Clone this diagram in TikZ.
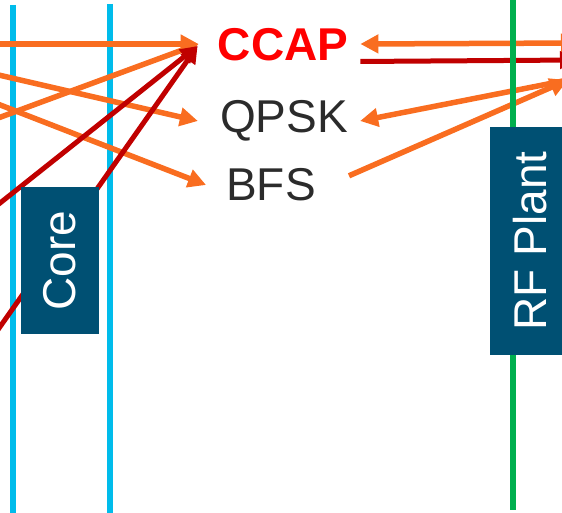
\documentclass[tikz,border=0pt]{standalone}
\usepackage{fontspec}
\setmainfont{Liberation Sans}
\usepackage{tikz}
\usetikzlibrary{arrows.meta}
\definecolor{cableblue}{HTML}{00BCEB}
\definecolor{plantgreen}{HTML}{00AF4E}
\definecolor{boxteal}{HTML}{005073}
\definecolor{sigorange}{HTML}{F96D20}
\definecolor{sigred}{HTML}{C00000}
\definecolor{labelgray}{HTML}{2B2B2B}
\tikzset{
  lbl/.style={inner xsep=12pt, inner ysep=0pt, text=labelgray, font=\fontsize{46}{50}\selectfont},
  layerbox/.style={fill=boxteal, text=white, rotate=90, inner sep=0pt, font=\fontsize{46}{50}\selectfont},
  orangearr/.style={line width=5.5pt, sigorange, -{Triangle[length=18pt,width=18pt]}},
  redarr/.style={line width=5pt, sigred, -{Triangle[length=17pt,width=17pt]}},
}

\begin{document}
\begin{tikzpicture}[x=1pt,y=-1pt]
    \useasboundingbox (0,0) rectangle (562,513);
    \clip (0,0) rectangle (562,513);
    % labels
    \node[lbl, text=red, font=\bfseries\fontsize{46}{50}\selectfont] (ccap) at (283,45) {CCAP};
    \node[lbl] (qpsk) at (284,121) {QPSK};
    \node[lbl] (bfs) at (271,185) {BFS};
    % free ends outside the frame
    \coordinate (in1) at (-10,44);
    \coordinate (in2) at (-10,73);
    \coordinate (in3) at (-10,101);
    \coordinate (in4) at (-10,121);
    \coordinate (in5) at (-10,211);
    \coordinate (in6) at (-10,341);
    \coordinate (out1) at (579,43);
    \coordinate (out2) at (577,60);
    \coordinate (out3) at (568,80);
    % blue lines
    \draw[line width=6pt, cableblue] (13,5) -- (13,520);
    \draw[line width=6pt, cableblue] (110,4) -- (110,520);
    % from the left
    \draw[orangearr] (in1) -- ([xshift=-7pt,yshift=1pt]ccap.west);
    \draw[orangearr] (in2) -- ([xshift=-10pt]qpsk.west);
    \draw[orangearr] (in3) -- ([xshift=-8pt]bfs.west);
    \draw[orangearr] (in4) -- ([xshift=-7pt,yshift=1pt]ccap.west);
    \draw[redarr] (in5) -- ([xshift=-8pt,yshift=-1pt]ccap.west);
    \draw[redarr] (in6) -- ([xshift=-8pt,yshift=-1pt]ccap.west);
    % to the right
    \draw[orangearr, {Triangle[length=18pt,width=18pt]}-{Triangle[length=18pt,width=18pt]}] ([yshift=1pt]ccap.east) -- (out1);
    \draw[redarr] (ccap.south east) -- (out2);
    \draw[orangearr] (out3) -- (qpsk.east);
    \draw[orangearr, shorten <=23pt] (bfs.east) -- (out3);
    % green line
    \draw[line width=6pt, plantgreen] (513,-5) -- (513,510);
    % boxes
    \node[layerbox, minimum width=147pt, minimum height=78pt] (core) at (60,260.5) {Core};
    \node[layerbox, minimum width=228pt, minimum height=80pt] (plant) at (530,241) {RF Plant};
\end{tikzpicture}
\end{document}
